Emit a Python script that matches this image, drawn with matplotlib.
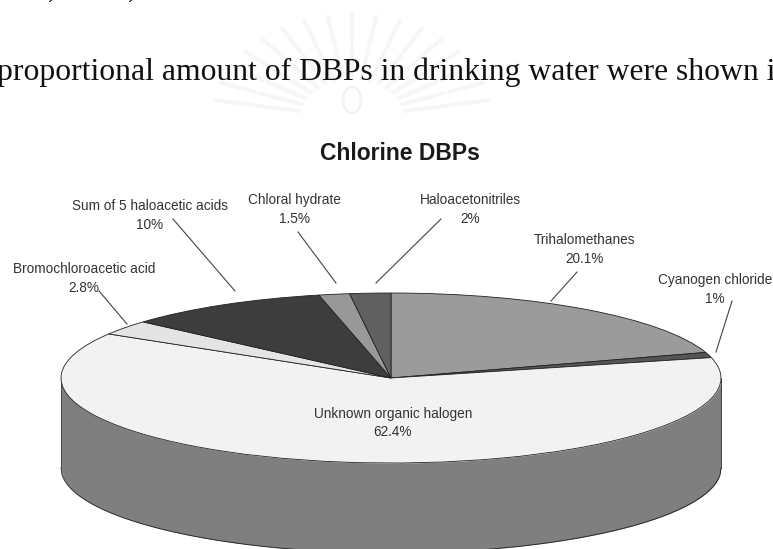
import numpy as np
import matplotlib
matplotlib.use("Agg")
import matplotlib.pyplot as plt
from matplotlib.lines import Line2D
from matplotlib.patches import Ellipse

# Data
categories = ["Trihalomethanes", "Cyanogen chloride", "Unknown organic halogen",
              "Bromochloroacetic acid", "Sum of 5 haloacetic acids",
              "Chloral hydrate", "Haloacetonitriles"]
values = [20.1, 1, 62.4, 2.8, 10, 1.5, 2]
colors = ["#9b9b9b", "#555555", "#f2f2f2", "#e4e4e4", "#3d3d3d", "#989898", "#606060"]
title = "Chlorine DBPs"
body_text = "proportional amount of DBPs in drinking water were shown in"

W, H = 773, 549
plt.rcParams["font.family"] = ["Liberation Sans", "DejaVu Sans"]
fig = plt.figure(figsize=(W / 100, H / 100), dpi=100, facecolor="white")


def fx(px):
    return px / W


def fy(py):
    return 1 - py / H


# Layout (pixels)
cx, cy, rx, ry, depth = 391, 378, 330, 85, 90
label_xy = [(585, 249.5), (715, 289.5), (393, 423), (84, 278.5), (150, 215.5), (294, 209.5), (470, 209.5)]
leaders = [((577, 272), (551, 301)), ((732, 301), (716, 352)), None,
           ((99, 291), (127, 324)), ((173, 219), (235, 291)),
           ((298, 232), (336, 283)), ((441, 219), (376, 283))]

# Faint background emblem
emblem_c = (352, 118)
for ang in np.linspace(10, 170, 17):
    a = np.radians(ang)
    for r0, r1 in ((40, 72), (76, 103)):
        fig.add_artist(Line2D([fx(emblem_c[0] + r0 * np.cos(a) * 1.35), fx(emblem_c[0] + r1 * np.cos(a) * 1.35)],
                              [fy(emblem_c[1] - r0 * np.sin(a)), fy(emblem_c[1] - r1 * np.sin(a))],
                              color="#f6f6f6", lw=3, solid_capstyle="round", zorder=0))
fig.add_artist(Ellipse((fx(352), fy(100)), 18 / W, 26 / H, transform=fig.transFigure,
                       fc="none", ec="#f2f2f2", lw=2, zorder=0))

# Pie
ax = fig.add_axes([fx(cx - rx), fy(cy + ry), 2 * rx / W, 2 * ry / H])
t = np.linspace(-1, 1, 800)
top_edge = -np.sqrt(1 - t ** 2)
side_depth = depth / ry
ax.fill_between(t, top_edge, top_edge - side_depth, color="#7f7f7f", lw=0, clip_on=False, zorder=0)
ax.plot(t, top_edge - side_depth, color="#222222", lw=0.6, clip_on=False, zorder=1)
for sx in (-1, 1):
    ax.plot([sx, sx], [0, -side_depth], color="#333333", lw=0.6, clip_on=False, zorder=1)

wedges, _ = ax.pie(values, colors=colors, startangle=90, counterclock=False, radius=1,
                   wedgeprops=dict(edgecolor="#222222", linewidth=0.6))
for w in wedges:
    w.set_clip_on(False)
    w.set_zorder(2)
ax.set_aspect("auto")
ax.set_xlim(-1, 1)
ax.set_ylim(-1, 1)
ax.axis("off")

# Labels and leader lines
for name, val, (lx, ly), lead in zip(categories, values, label_xy, leaders):
    fig.text(fx(lx), fy(ly), f"{name}\n{val:g}%", ha="center", va="center", fontsize=9.8,
             color="#333333", linespacing=1.42, zorder=5)
    if lead:
        (x0, y0), (x1, y1) = lead
        fig.add_artist(Line2D([fx(x0), fx(x1)], [fy(y0), fy(y1)], color="#444444", lw=0.8))

fig.text(fx(400), fy(153), title, ha="center", va="center", fontsize=16.5, fontweight="bold", color="#1a1a1a")
fig.text(fx(-3), fy(80), body_text, ha="left", va="baseline", fontsize=22.8, family="Liberation Serif", color="#111111")
fig.text(fx(48), fy(-3), ",", fontsize=22, family="Liberation Serif", style="italic", color="#111111", va="baseline")
fig.text(fx(128), fy(-3), ",", fontsize=22, family="Liberation Serif", style="italic", color="#111111", va="baseline")

fig.savefig("out.png", dpi=100, facecolor="white")
